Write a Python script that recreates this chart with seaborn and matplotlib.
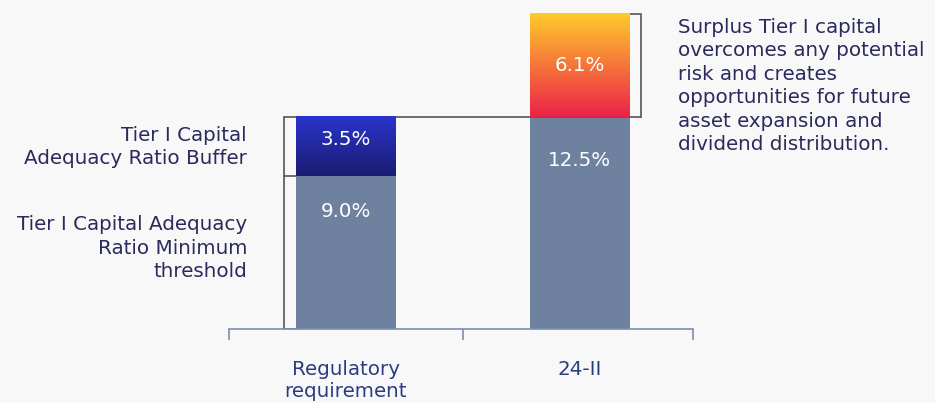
import numpy as np
import matplotlib
matplotlib.use("Agg")
import matplotlib.pyplot as plt
from matplotlib.colors import LinearSegmentedColormap
import seaborn as sns

# data
categories = ["Regulatory\nrequirement", "24-II"]
base_values = [9.0, 12.5]        # minimum threshold / current base
top_values = [3.5, 6.1]          # buffer / surplus
base_labels = ["9.0%", "12.5%"]
top_labels = ["3.5%", "6.1%"]
left_notes = ["Tier I Capital\nAdequacy Ratio Buffer",
              "Tier I Capital Adequacy\nRatio Minimum\nthreshold"]
right_note = ("Surplus Tier I capital\novercomes any potential\nrisk and creates\n"
              "opportunities for future\nasset expansion and\ndividend distribution.")

BG = "#f8f8f8"
GRAY = "#6e82a0"
TEXT = "#2a2a5c"
AXIS = "#7d8db5"
BRACKET = "#555555"
top_grads = [["#1b1c70", "#2a34cc"], ["#ec2147", "#ffcb2c"]]  # bottom -> top
FS = 14.3
LS = 1.3

sns.set_theme(style="white")
plt.rcParams["font.family"] = ["DejaVu Sans"]

W, H = 9.35, 4.03
fig = plt.figure(figsize=(W, H), dpi=100, facecolor=BG)
# axes placed in pixel terms: x axis line 229..693 px, baseline at y=329 px
ax = fig.add_axes([229 / 935, 1 - 329 / 403, (693 - 229) / 935, 329 / 403])
ax.set_facecolor(BG)

totals = [b + t for b, t in zip(base_values, top_values)]
bw = 0.427
sns.barplot(x=categories, y=totals, color=GRAY, width=bw, saturation=1,
            linewidth=0, ax=ax)
sns.barplot(x=categories, y=base_values, color=GRAY, width=bw, saturation=1,
            linewidth=0, ax=ax)

XL, YL = (-0.5, 1.485), (0, 19.4)

# gradient fill for the upper segments
top_patches = ax.patches[:len(categories)]
for p, b, t, cols in zip(top_patches, base_values, totals, top_grads):
    cmap = LinearSegmentedColormap.from_list("g", cols)
    grad = np.linspace(0, 1, 256).reshape(-1, 1)
    x0 = p.get_x()
    ax.imshow(grad, cmap=cmap, origin="lower", aspect="auto",
              extent=[x0, x0 + p.get_width(), b, t], zorder=3)
    p.set_facecolor("none")
ax.set_xlim(*XL)
ax.set_ylim(*YL)

# value labels (vertical nudges in data units)
base_nudge = [-2.1, -2.55]
top_nudge = [0.45, 0.0]
for i, (b, t) in enumerate(zip(base_values, totals)):
    ax.text(i, b + base_nudge[i], base_labels[i], ha="center", va="center",
            color="white", fontsize=FS, zorder=5)
    ax.text(i, (b + t) / 2 + top_nudge[i], top_labels[i], ha="center",
            va="center", color="white", fontsize=FS, zorder=5)

# brackets
lx = -bw / 2 - 0.053
rx = 1 + bw / 2 + 0.05
ax.plot([lx, lx], [0, totals[0]], color=BRACKET, lw=1.2, zorder=1)
for yv in [0, base_values[0]]:
    ax.plot([lx, -bw / 2], [yv, yv], color=BRACKET, lw=1.2, zorder=1)
ax.plot([lx, rx], [totals[0], totals[0]], color=BRACKET, lw=1.2, zorder=1)
ax.plot([1 + bw / 2, rx, rx], [totals[1], totals[1], base_values[1]],
        color=BRACKET, lw=1.2, zorder=1)

# axis styling
sns.despine(ax=ax, left=True, top=True, right=True)
ax.spines["bottom"].set_color(AXIS)
ax.spines["bottom"].set_linewidth(1.2)
ax.set_yticks([])
ax.set_xticks([-0.5, 0.5, 1.485], minor=True)
ax.tick_params(axis="x", which="minor", length=8, width=1.2, color=AXIS,
               direction="out", bottom=True)
ax.tick_params(axis="x", which="major", length=0, pad=22,
               labelsize=FS, labelcolor="#2b3d82")
for lbl in ax.get_xticklabels():
    lbl.set_linespacing(1.2)
ax.set_xlabel("")
ax.set_ylabel("")

# notes
fig.text(247 / 935, 1 - 147 / 403, left_notes[0], ha="right", va="center",
         color=TEXT, fontsize=FS, linespacing=LS)
fig.text(247 / 935, 1 - 248 / 403, left_notes[1], ha="right", va="center",
         color=TEXT, fontsize=FS, linespacing=LS)
fig.text(678 / 935, 1 - 86 / 403, right_note, ha="left", va="center",
         color=TEXT, fontsize=FS, linespacing=LS)

fig.savefig("out.png", dpi=100, facecolor=BG)
